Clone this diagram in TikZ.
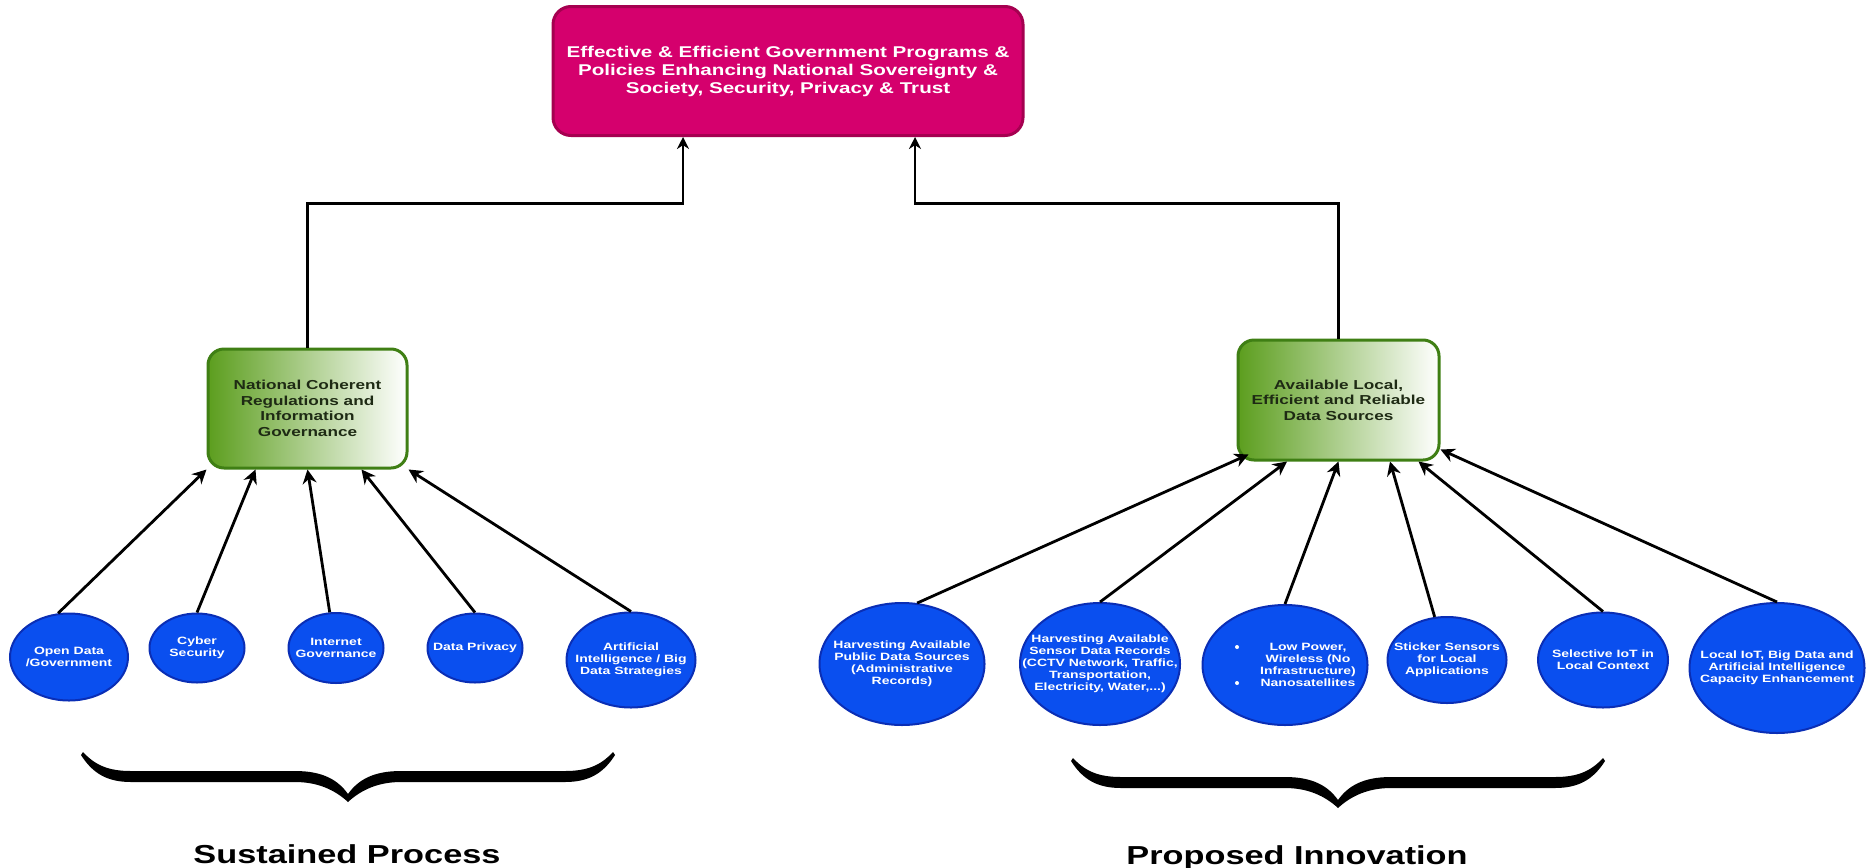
\documentclass[tikz,border=0pt]{standalone}
\usepackage{fontspec}
\setmainfont{Liberation Sans}[FakeStretch=1.32]
\usetikzlibrary{shapes.geometric,arrows.meta}
\definecolor{magentaF}{HTML}{D5006D}
\definecolor{magentaD}{HTML}{A50050}
\definecolor{blueF}{HTML}{0A4FEF}
\definecolor{blueD}{HTML}{0A2EB5}
\definecolor{greenF}{HTML}{5C9E1E}
\definecolor{greenD}{HTML}{3F7F14}
\definecolor{greenT}{HTML}{1E2A14}
\tikzset{
  mybrace/.pic={
    \fill[black] (0,0) .. controls (12,13) and (25,19) .. (48,19) -- (212,19)
      .. controls (240,19) and (255,28) .. (265,42)
      .. controls (275,28) and (290,19) .. (318,19) -- (482,19)
      .. controls (505,19) and (518,13) .. (530,0)
      -- (532,3) .. controls (520,22) and (505,30) .. (482,30) -- (318,30)
      .. controls (295,30) and (278,38) .. (265,50)
      .. controls (252,38) and (235,30) .. (212,30) -- (48,30)
      .. controls (25,30) and (10,22) .. (-2,3) -- cycle;
  }
}
\begin{document}
\begin{tikzpicture}[x=0.5pt,y=-0.5pt,
  topbox/.style={draw=magentaD, fill=magentaF, line width=1.5pt, rounded corners=9pt,
    minimum width=235pt, minimum height=64.5pt, text=white, align=center,
    font=\bfseries\fontsize{7.8}{9}\selectfont, inner sep=0pt},
  gbox/.style={draw=greenD, left color=greenF, right color=white, line width=1.5pt,
    rounded corners=8pt, minimum width=100pt, minimum height=60pt, text=greenT,
    align=center, font=\bfseries\fontsize{6.5}{7.75}\selectfont, inner sep=0pt},
  circ/.style={ellipse, draw=blueD, fill=blueF, line width=1pt, inner sep=0pt},
  ctext/.style={text=white, align=center, font=\bfseries\fontsize{5.3}{6}\selectfont, inner sep=0pt},
  bul/.style={circle, fill=white, inner sep=0pt, minimum size=2pt},
  arr/.style={draw=black, line width=1.4pt, -{Stealth[length=7pt,width=7pt]}},
  link/.style={draw=black, line width=1.1pt, -{Stealth[length=6pt,width=6pt]}},
  bigl/.style={font=\bfseries\fontsize{13}{15}\selectfont, anchor=base, inner sep=0pt},
]
\useasboundingbox (0,0) rectangle (1866,867);

% top box
\node[topbox] (top) at (788,71) {Effective \& Efficient Government Programs \&\\Policies Enhancing National Sovereignty \&\\Society, Security, Privacy \& Trust};

% green boxes
\node[gbox, minimum width=99.5pt, minimum height=59.5pt] (b1) at (307.5,408.5) {National Coherent\\Regulations and\\Information\\Governance};
\node[gbox, minimum width=100.5pt] (b2) at (1338.5,400) {Available Local,\\Efficient and Reliable\\Data Sources};

% left circles
\node[circ, minimum width=59pt, minimum height=43.5pt] (l1) at (69,657) {};
\node[ctext] (l1t) at (l1) {Open Data\\/Government};
\node[circ, minimum width=47.5pt, minimum height=34.5pt] (l2) at (197,648) {};
\node[ctext] (l2t) at (l2) {Cyber\\Security};
\node[circ, minimum width=47.5pt, minimum height=35pt] (l3) at (336,648) {};
\node[ctext] (l3t) at (l3) {Internet\\Governance};
\node[circ, minimum width=47.5pt, minimum height=34.5pt] (l4) at (475,648) {};
\node[ctext] (l4t) at (l4) {Data Privacy};
\node[circ, minimum width=64.5pt, minimum height=47.5pt] (l5) at (631,660) {};
\node[ctext] (l5t) at (l5) {Artificial\\Intelligence / Big\\Data Strategies};

% right circles
\node[circ, minimum width=82.5pt, minimum height=61pt] (r1) at (902,664) {};
\node[ctext] (r1t) at (r1) {Harvesting Available\\Public Data Sources\\(Administrative\\Records)};
\node[circ, minimum width=80pt, minimum height=61pt] (r2) at (1100,664) {};
\node[ctext] (r2t) at (r2) {Harvesting Available\\Sensor Data Records\\(CCTV Network, Traffic,\\Transportation,\\Electricity, Water,...)};
\node[circ, minimum width=82.5pt, minimum height=60pt] (r3) at (1285,665) {};
\node[ctext] (r3t) at (1308,665) {Low Power,\\Wireless (No\\Infrastructure)\\Nanosatellites};
\node[bul] (r3b1) at (1237,647) {};
\node[bul] (r3b2) at (1237,683) {};
\node[circ, minimum width=59.5pt, minimum height=43pt] (r4) at (1447,660) {};
\node[ctext] (r4t) at (r4) {Sticker Sensors\\for Local\\Applications};
\node[circ, minimum width=65pt, minimum height=47.5pt] (r5) at (1603,660) {};
\node[ctext] (r5t) at (r5) {Selective IoT in\\Local Context};
\node[circ, minimum width=87.5pt, minimum height=65pt] (r6) at (1777,668) {};
\node[ctext] (r6t) at (r6) {Local IoT, Big Data and\\Artificial Intelligence\\Capacity Enhancement};

% arrows left
\draw[arr] (l1.104) -- (b1.south west);
\draw[arr] (l2.north) -- ([xshift=-26pt]b1.south);
\draw[arr] (l3.100) -- (b1.south);
\draw[arr] (l4.north) -- ([xshift=27pt]b1.south);
\draw[arr] (l5.north) -- (b1.south east);

% arrows right
\draw[arr] (r1.76) -- ([xshift=6pt,yshift=3.5pt]b2.south west);
\draw[arr] (r2.north) -- ([xshift=-25.75pt]b2.south);
\draw[arr] (r3.north) -- (b2.south);
\draw[arr] (r4.106) -- ([xshift=25.75pt]b2.south);
\draw[arr] (r5.north) -- ([xshift=-11pt]b2.south east);
\draw[arr] (r6.north) -- ([yshift=6pt]b2.south east);

% links to top
\draw[link] (b1.north) -- ++(0,-144) -| ([xshift=-52.5pt]top.south);
\draw[link] (b2.north) -- ++(0,-135) -| ([xshift=63.5pt]top.south);

% braces
\pic (brL) at (83,752) {mybrace};
\pic (brR) at (1073,758) {mybrace};

% labels
\node[bigl] (sp) at (347,863) {Sustained Process};
\node[bigl] (pi) at (1297,864) {Proposed Innovation};
\end{tikzpicture}
\end{document}
